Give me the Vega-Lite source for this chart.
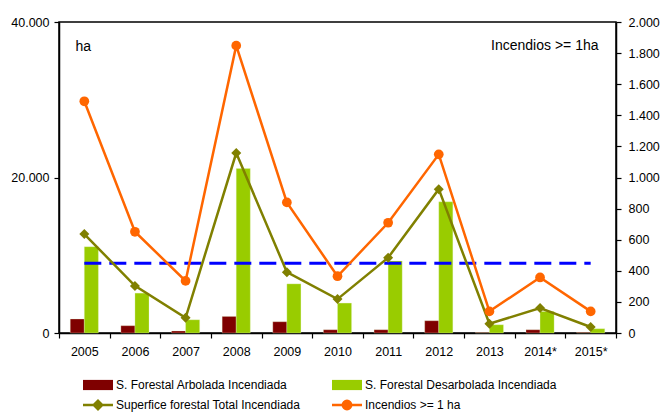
{
  "$schema": "https://vega.github.io/schema/vega-lite/v6.json",
  "width": 557,
  "height": 311,
  "autosize": "none",
  "padding": {"left": 59, "top": 22, "right": 45, "bottom": 79},
  "background": "white",
  "config": {
    "font": "Liberation Sans",
    "view": {"stroke": "black", "strokeWidth": 1.5},
    "locale": {"number": {"decimal": ",", "thousands": ".", "grouping": [3], "currency": ["", " €"]}},
    "axis": {"domainColor": "black", "domainWidth": 1.5, "tickColor": "black", "tickWidth": 1.2, "labelColor": "black", "labelFontSize": 12.5, "labelFont": "Liberation Sans", "grid": false}
  },
  "data": {
    "values": [
      {"year": "2005", "arbolada": 1800, "desarbolada": 11100, "total": 12730, "incendios": 1490, "media": 8970},
      {"year": "2006", "arbolada": 940, "desarbolada": 5130, "total": 6060, "incendios": 651, "media": 8970},
      {"year": "2007", "arbolada": 260, "desarbolada": 1700, "total": 1960, "incendios": 335, "media": 8970},
      {"year": "2008", "arbolada": 2130, "desarbolada": 21150, "total": 23150, "incendios": 1848, "media": 8970},
      {"year": "2009", "arbolada": 1450, "desarbolada": 6320, "total": 7820, "incendios": 840, "media": 8970},
      {"year": "2010", "arbolada": 420, "desarbolada": 3850, "total": 4360, "incendios": 365, "media": 8970},
      {"year": "2011", "arbolada": 420, "desarbolada": 9270, "total": 9690, "incendios": 709, "media": 8970},
      {"year": "2012", "arbolada": 1580, "desarbolada": 16870, "total": 18500, "incendios": 1149, "media": 8970},
      {"year": "2013", "arbolada": 60, "desarbolada": 1060, "total": 1190, "incendios": 139, "media": 8970},
      {"year": "2014*", "arbolada": 420, "desarbolada": 2770, "total": 3210, "incendios": 357, "media": 8970},
      {"year": "2015*", "arbolada": 80, "desarbolada": 550, "total": 770, "incendios": 139, "media": 8970}
    ]
  },
  "resolve": {"scale": {"y": "independent"}},
  "layer": [
    {
      "transform": [
        {"fold": ["arbolada", "desarbolada"], "as": ["serieKey", "valor"]},
        {"calculate": "datum.serieKey === 'arbolada' ? 'S. Forestal Arbolada Incendiada' : 'S. Forestal Desarbolada Incendiada'", "as": "serie"}
      ],
      "mark": {"type": "bar", "stroke": "#e8f5c8", "strokeWidth": 0.5, "strokeOpacity": 0.6},
      "encoding": {
        "x": {
          "field": "year", "type": "nominal", "sort": null,
          "scale": {"paddingInner": 0, "paddingOuter": 0},
          "axis": {"title": null, "labelAngle": 0, "tickBand": "extent", "tickSize": 5, "labelPadding": 7, "domainWidth": 1.5}
        },
        "xOffset": {"field": "serie", "type": "nominal", "scale": {"paddingInner": 0, "paddingOuter": 0.8}},
        "y": {
          "field": "valor", "type": "quantitative",
          "scale": {"domain": [0, 40000], "nice": false},
          "axis": {
            "orient": "left", "values": [0, 20000, 40000], "format": ",d", "tickSize": 5, "labelPadding": 5,
            "title": "ha", "titleAngle": 0, "titleX": 16, "titleY": 24, "titleAlign": "left", "titleBaseline": "middle",
            "titleFontSize": 14, "titleFontWeight": "normal", "titleFont": "Liberation Sans", "titleColor": "black"
          }
        },
        "color": {
          "field": "serie", "type": "nominal",
          "scale": {
            "domain": ["S. Forestal Arbolada Incendiada", "S. Forestal Desarbolada Incendiada", "Superfice forestal Total Incendiada", "Incendios >= 1 ha"],
            "range": ["#7f0000", "#99cc00", "#808000", "#ff6600"]
          },
          "legend": {
            "orient": "none", "direction": "horizontal", "legendX": 24, "legendY": 357, "columns": 2, "columnPadding": 26, "rowPadding": 4,
            "title": null, "padding": 0, "symbolSize": 144, "labelOffset": 21, "labelFontSize": 12, "labelLimit": 400,
            "labelFont": "Liberation Sans", "labelColor": "black", "symbolType": "M-1,-0.85H4V0.85H-1Z",
            "encoding": {
              "symbols": {
                "shape": {"value": {"expr": "datum.index < 2 ? 'M-1,-0.85H4V0.85H-1Z' : datum.index == 2 ? 'M-1,0H4M0.8,0L1.5,-0.7L2.2,0L1.5,0.7Z' : 'M-1,0H4M2.2,0A0.7,0.7 0 1,1 0.8,0A0.7,0.7 0 1,1 2.2,0Z'"}},
                "fill": {"value": {"expr": "scale('color', datum.value)"}},
                "stroke": {"value": {"expr": "scale('color', datum.value)"}},
                "strokeWidth": {"value": {"expr": "datum.index < 2 ? 0 : 2.5"}},
                "opacity": {"value": 1},
                "fillOpacity": {"value": 1}
              }
            }
          }
        }
      }
    },
    {
      "mark": {"type": "line", "color": "#0000ff", "strokeWidth": 3, "strokeDash": [17, 8]},
      "encoding": {
        "x": {"field": "year", "type": "nominal", "sort": null},
        "y": {"field": "media", "type": "quantitative", "scale": {"domain": [0, 40000], "nice": false}, "axis": null}
      }
    },
    {
      "mark": {"type": "line", "strokeWidth": 2.5, "point": {"shape": "diamond", "size": 100, "filled": true}},
      "encoding": {
        "x": {"field": "year", "type": "nominal", "sort": null},
        "y": {"field": "total", "type": "quantitative", "scale": {"domain": [0, 40000], "nice": false}, "axis": null},
        "color": {"datum": "Superfice forestal Total Incendiada"}
      }
    },
    {
      "mark": {"type": "line", "strokeWidth": 2.5, "point": {"shape": "circle", "size": 95, "filled": true, "opacity": 1}},
      "encoding": {
        "x": {"field": "year", "type": "nominal", "sort": null},
        "y": {
          "field": "incendios", "type": "quantitative",
          "scale": {"domain": [0, 2000], "nice": false},
          "axis": {
            "orient": "right", "values": [0, 200, 400, 600, 800, 1000, 1200, 1400, 1600, 1800, 2000], "format": ",d",
            "tickSize": 5, "labelPadding": 7,
            "title": "Incendios >= 1ha", "titleAngle": 0, "titleX": -18, "titleY": 23, "titleAlign": "right", "titleBaseline": "middle",
            "titleFontSize": 14, "titleFontWeight": "normal", "titleFont": "Liberation Sans", "titleColor": "black"
          }
        },
        "color": {"datum": "Incendios >= 1 ha"}
      }
    }
  ]
}
